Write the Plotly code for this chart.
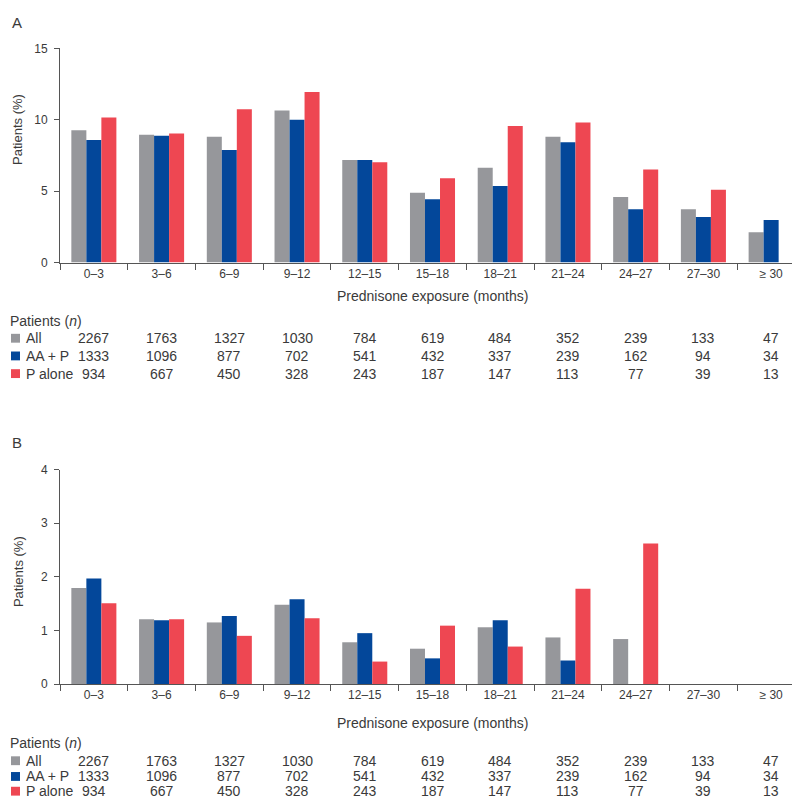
import plotly.graph_objects as go

categories = ["0–3", "3–6", "6–9", "9–12", "12–15", "15–18", "18–21", "21–24", "24–27", "27–30", "≥ 30"]

# Panel A values (% patients)
a_all = [9.27, 8.95, 8.81, 10.65, 7.18, 4.89, 6.65, 8.81, 4.59, 3.74, 2.13]
a_aap = [8.58, 8.88, 7.89, 10.00, 7.18, 4.43, 5.37, 8.42, 3.74, 3.19, 2.98]
a_pal = [10.16, 9.04, 10.74, 11.95, 7.02, 5.90, 9.57, 9.82, 6.52, 5.11, None]

# Panel B values (% patients)
b_all = [1.79, 1.21, 1.15, 1.48, 0.78, 0.66, 1.06, 0.87, 0.84, None, None]
b_aap = [1.97, 1.19, 1.27, 1.58, 0.95, 0.48, 1.19, 0.44, None, None, None]
b_pal = [1.51, 1.21, 0.90, 1.23, 0.42, 1.09, 0.70, 1.78, 2.62, None, None]

# Patients at risk (n)
n_all = [2267, 1763, 1327, 1030, 784, 619, 484, 352, 239, 133, 47]
n_aap = [1333, 1096, 877, 702, 541, 432, 337, 239, 162, 94, 34]
n_pal = [934, 667, 450, 328, 243, 187, 147, 113, 77, 39, 13]

series_names = ["All", "AA + P", "P alone"]
colors = ["#96979b", "#03479a", "#ee4752"]

W, H = 800, 801
def py(p):
    return 1 - p / H
def px(p):
    return p / W

NARROW = "Liberation Sans Narrow, Arial Narrow, Liberation Sans, Arial, sans-serif"
REG = "Liberation Sans, Arial, Helvetica, sans-serif"
TXT = "#3a3a3a"

fig = go.Figure()
for vals, name, col in zip([a_all, a_aap, a_pal], series_names, colors):
    fig.add_trace(go.Bar(x=categories, y=vals, name=name, marker=dict(color=col, line=dict(width=0)),
                         xaxis="x", yaxis="y", showlegend=False))
for vals, name, col in zip([b_all, b_aap, b_pal], series_names, colors):
    fig.add_trace(go.Bar(x=categories, y=vals, name=name, marker=dict(color=col, line=dict(width=0)),
                         xaxis="x2", yaxis="y2", showlegend=False))

xdom = [px(52), px(797)]
axis_common = dict(showline=True, linecolor="#555555", linewidth=1, showgrid=False, zeroline=False,
                   ticks="outside", tickcolor="#555555", ticklen=6, tickwidth=1,
                   tickfont=dict(family=REG, size=12, color=TXT))
fig.update_layout(
    width=W, height=H, margin=dict(l=0, r=0, t=0, b=0),
    paper_bgcolor="white", plot_bgcolor="white",
    barmode="group", bargap=0.335, bargroupgap=0,
    xaxis=dict(domain=xdom, anchor="y", type="category", range=[-0.5, 10.5], tickson="boundaries", **axis_common),
    yaxis=dict(domain=[py(252), py(34)], anchor="x", range=[0, 15], tickvals=[0, 5, 10, 15], **axis_common),
    xaxis2=dict(domain=xdom, anchor="y2", type="category", range=[-0.5, 10.5], tickson="boundaries", **axis_common),
    yaxis2=dict(domain=[py(681), py(462.7)], anchor="x2", range=[0, 4], tickvals=[0, 1, 2, 3, 4], **axis_common),
)
fig.update_yaxes(ticklen=5, ticklabelstandoff=4)
fig.update_xaxes(ticklabelstandoff=0)

annotations = []
shapes = []

def panel(label, label_y, ytitle_y, xtitle_y, pat_y, row_ys, xref):
    annotations.append(dict(text=label, x=px(2), y=py(label_y), xref="paper", yref="paper",
                            xanchor="left", yanchor="middle", showarrow=False,
                            font=dict(family=REG, size=15, color=TXT)))
    annotations.append(dict(text="Patients (%)", x=px(10), y=py(ytitle_y), xref="paper", yref="paper",
                            textangle=-90, xanchor="center", yanchor="middle", showarrow=False,
                            font=dict(family=REG, size=13, color=TXT)))
    annotations.append(dict(text="Prednisone exposure (months)", x=(xdom[0] + xdom[1]) / 2, y=py(xtitle_y),
                            xref="paper", yref="paper", xanchor="center", yanchor="middle", showarrow=False,
                            font=dict(family=NARROW, size=14, color=TXT)))
    annotations.append(dict(text="Patients (<i>n</i>)", x=px(0), y=py(pat_y), xref="paper", yref="paper",
                            xanchor="left", yanchor="middle", showarrow=False,
                            font=dict(family=NARROW, size=14, color=TXT)))
    for row_y, name, col, nums in zip(row_ys, series_names, colors, [n_all, n_aap, n_pal]):
        shapes.append(dict(type="rect", xref="paper", yref="paper", x0=px(3), x1=px(12),
                           y0=py(row_y + 4.5), y1=py(row_y - 4.5), fillcolor=col, line=dict(width=0)))
        annotations.append(dict(text=name, x=px(16), y=py(row_y), xref="paper", yref="paper",
                                xanchor="left", yanchor="middle", showarrow=False,
                                font=dict(family=NARROW, size=14, color=TXT)))
        for i, v in enumerate(nums):
            annotations.append(dict(text=str(v), x=i, y=py(row_y), xref=xref, yref="paper",
                                    xanchor="center", yanchor="middle", showarrow=False,
                                    font=dict(family=NARROW, size=14, color=TXT)))

panel("A", 8, 117, 286, 311, [329, 347, 365], "x")
panel("B", 435, 567, 721, 741, [759, 775, 790], "x2")

fig.update_layout(annotations=annotations, shapes=shapes)
fig.write_html("out.html")
